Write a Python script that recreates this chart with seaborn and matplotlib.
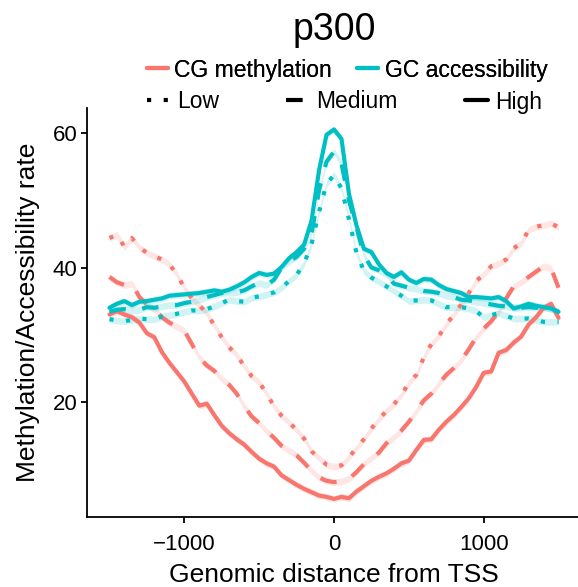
import matplotlib
matplotlib.use("Agg")
import matplotlib.pyplot as plt
from matplotlib.lines import Line2D
import pandas as pd
import seaborn as sns

# ---------------- data ----------------
positions = list(range(-1500, 1501, 50))

cg_high = [33.0, 33.5, 33.0, 32.6, 31.8, 30.2, 29.6, 27.4, 25.8, 24.4, 23.0, 21.2, 19.4, 19.7, 18.0, 16.4,
           15.3, 14.4, 13.6, 12.5, 11.5, 10.8, 10.3, 9.0, 8.3, 7.6, 7.0, 6.5, 6.0, 5.8, 5.5,
           5.8, 5.6, 6.6, 7.4, 8.2, 8.8, 9.3, 10.0, 10.8, 11.2, 12.8, 14.3, 14.4, 15.8, 17.0, 18.0,
           19.2, 20.5, 22.2, 24.3, 24.5, 27.3, 27.7, 28.8, 29.7, 31.5, 32.6, 34.0, 34.6, 32.5]
cg_medium = [38.6, 37.8, 37.4, 37.6, 35.6, 34.5, 33.8, 32.6, 31.8, 31.2, 30.6, 28.6, 26.6, 25.4, 24.6, 23.4,
             22.5, 21.2, 19.3, 17.8, 16.8, 15.6, 14.6, 13.4, 12.7, 12.0, 10.9, 9.7, 8.7, 8.2, 8.0,
             8.1, 8.5, 9.5, 10.7, 11.6, 12.4, 13.8, 14.7, 15.7, 17.0, 18.6, 20.2, 21.2, 22.7, 24.0, 25.0,
             26.2, 27.8, 29.6, 30.9, 32.0, 33.4, 35.4, 37.2, 37.8, 38.6, 39.4, 40.2, 39.9, 37.0]
cg_low = [44.4, 44.9, 43.1, 44.4, 43.0, 42.2, 41.7, 41.2, 40.5, 39.0, 37.0, 35.4, 34.4, 33.2, 31.4, 29.6,
          28.1, 27.0, 25.3, 23.8, 22.9, 21.2, 19.3, 17.9, 16.9, 15.8, 14.5, 12.6, 11.6, 10.6, 10.3,
          10.5, 11.7, 13.1, 14.4, 16.0, 17.4, 18.6, 19.6, 21.0, 22.8, 24.0, 26.6, 28.6, 29.8, 31.5, 33.0,
          34.5, 36.2, 38.0, 39.0, 40.2, 40.6, 41.2, 42.9, 43.6, 45.6, 46.1, 46.3, 46.6, 46.0]

gc_high = [34.0, 34.6, 35.0, 34.4, 34.9, 35.0, 35.2, 35.4, 35.8, 35.9, 36.0, 36.1, 36.2, 36.4, 36.6, 36.4,
           36.7, 37.2, 37.8, 38.6, 39.2, 38.9, 39.1, 40.1, 41.4, 42.3, 43.4, 47.0, 54.5, 59.8, 60.6,
           59.2, 51.0, 46.3, 42.8, 42.3, 40.5, 39.2, 38.6, 39.3, 38.2, 37.7, 38.3, 38.2, 37.4, 36.8, 36.5,
           36.2, 35.6, 35.6, 35.5, 35.4, 35.6, 35.0, 33.9, 34.2, 34.6, 34.3, 34.1, 33.9, 33.4]
gc_medium = [33.4, 33.7, 33.8, 33.6, 33.7, 34.1, 34.0, 34.2, 34.4, 34.4, 34.7, 34.9, 35.2, 35.6, 35.9, 36.2,
             36.3, 36.3, 36.6, 37.2, 37.7, 37.4, 38.2, 40.0, 40.9, 41.6, 42.8, 45.0, 51.5, 55.8, 57.3,
             55.5, 50.0, 46.0, 41.8, 40.0, 39.6, 39.0, 37.6, 37.3, 37.0, 36.8, 36.5, 36.4, 36.2, 35.8, 35.6,
             35.2, 35.1, 34.9, 34.7, 34.5, 34.3, 34.2, 34.1, 34.0, 34.1, 34.0, 34.1, 33.8, 33.4]
gc_low = [32.3, 32.1, 32.0, 32.2, 32.4, 32.3, 32.3, 32.7, 32.9, 33.1, 33.4, 33.6, 33.6, 33.8, 34.2, 34.7,
          35.2, 35.0, 34.9, 35.5, 35.7, 36.0, 36.3, 37.0, 38.0, 38.9, 40.6, 43.5, 48.3, 52.5, 53.8,
          51.8, 47.2, 42.2, 39.5, 38.5, 37.9, 37.2, 36.5, 35.8, 35.0, 35.1, 35.2, 35.1, 34.6, 34.1, 34.1,
          34.1, 33.9, 33.5, 32.6, 32.9, 33.2, 32.8, 32.4, 32.4, 32.4, 32.2, 31.9, 31.9, 31.9]

assays = ["CG methylation", "GC accessibility"]
levels = ["Low", "Medium", "High"]
series = {
    ("CG methylation", "Low"): cg_low,
    ("CG methylation", "Medium"): cg_medium,
    ("CG methylation", "High"): cg_high,
    ("GC accessibility", "Low"): gc_low,
    ("GC accessibility", "Medium"): gc_medium,
    ("GC accessibility", "High"): gc_high,
}
title = "p300"
x_ticks = [-1000, 0, 1000]
y_ticks = [20, 40, 60]

# ---------------- styling ----------------
palette = {"CG methylation": "#F8766D", "GC accessibility": "#00BFC4"}
dash_map = {"Low": (1, 3), "Medium": (4, 4), "High": ""}
ribbon_half = 0.5

sns.set_theme(style="ticks", rc={
    "axes.edgecolor": "black", "text.color": "black", "axes.labelcolor": "black",
    "xtick.color": "black", "ytick.color": "black",
})
plt.rcParams["font.family"] = ["Liberation Sans", "DejaVu Sans"]

rows = []
for (assay, level), vals in series.items():
    for p, v in zip(positions, vals):
        rows.append({"pos": p, "value": v, "assay": assay, "level": level})
df = pd.DataFrame(rows)

W, H = 578, 587
fig = plt.figure(figsize=(W / 100, H / 100), dpi=100)
ax = fig.add_axes([87 / W, 70 / H, (581 - 87) / W, (517 - 108) / H])

for (assay, level), g in df.groupby(["assay", "level"], sort=False):
    ax.fill_between(g["pos"], g["value"] - ribbon_half, g["value"] + ribbon_half,
                    color=palette[assay], alpha=0.18, lw=0, zorder=1)

sns.lineplot(data=df, x="pos", y="value", hue="assay", style="level",
             hue_order=assays, style_order=levels, palette=palette, dashes=dash_map,
             estimator=None, errorbar=None, sort=False, linewidth=3, legend=False,
             ax=ax, zorder=2)

ax.set_xlim(-1650, 1650)
ax.set_ylim(2.8, 63.8)
ax.set_xticks(x_ticks)
ax.set_yticks(y_ticks)
sns.despine(ax=ax)
for s in ["left", "bottom"]:
    ax.spines[s].set_linewidth(1.3)
    ax.spines[s].set_color("black")
ax.tick_params(axis="both", labelsize=16, length=4, width=1.3, direction="out")
ax.tick_params(axis="x", pad=8)
ax.tick_params(axis="y", pad=3)
ax.set_xlabel("Genomic distance from TSS", fontsize=19, labelpad=6)
ax.set_ylabel("Methylation/Accessibility rate", fontsize=19, labelpad=9)

fig.text(334 / W, 1 - 40 / H, title, ha="center", va="baseline", fontsize=27)

h1 = [Line2D([], [], color=palette[a], lw=3) for a in assays]
leg1 = fig.legend(h1, assays, loc="center left", bbox_to_anchor=(147 / W, 1 - 70 / H),
                  ncol=2, frameon=False, fontsize=16.5, handlelength=0.9, handletextpad=0.3,
                  columnspacing=1.1, borderpad=0, borderaxespad=0)
h2 = [Line2D([], [], color="black", lw=3,
             linestyle=(0, dash_map[l]) if dash_map[l] else "-") for l in levels]
fig.legend(h2, levels, loc="center left", bbox_to_anchor=(147 / W, 1 - 102 / H),
           ncol=3, frameon=False, fontsize=16.5, handlelength=1.0, handletextpad=0.3,
           columnspacing=2.95, borderpad=0, borderaxespad=0)
fig.add_artist(leg1)

fig.savefig("out.png", dpi=100)
